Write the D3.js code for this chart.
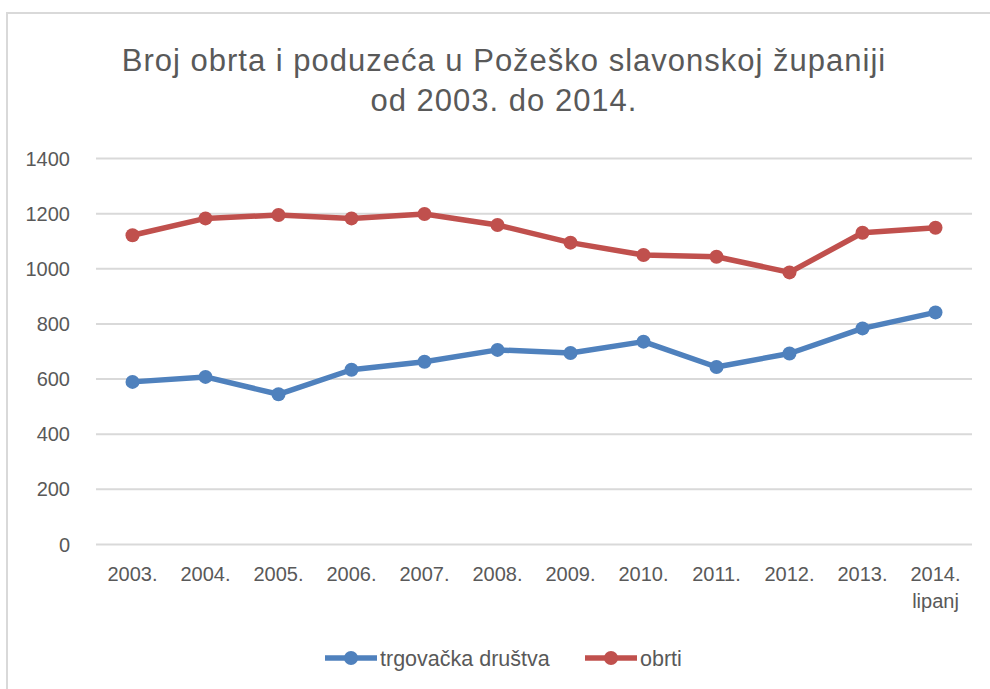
<!DOCTYPE html>
<html>
<head>
<meta charset="utf-8">
<script src="https://cdn.jsdelivr.net/npm/d3@7"></script>
<style>
  html, body { margin: 0; padding: 0; background: #fff; }
  svg { display: block; font-family: "Liberation Sans", Arial, sans-serif; }
  .grid line { stroke: #d9d9d9; stroke-width: 2; }
  .axis text { fill: #595959; font-size: 20px; }
</style>
</head>
<body>
<div id="chart"></div>
<script>
const years = ["2003.", "2004.", "2005.", "2006.", "2007.", "2008.", "2009.", "2010.", "2011.", "2012.", "2013.", "2014."];
const tvrtke = [588, 606, 543, 632, 661, 704, 693, 734, 642, 691, 782, 840];
const obrti = [1120, 1181, 1193, 1181, 1197, 1157, 1093, 1048, 1042, 985, 1129, 1147];
const yTicks = [0, 200, 400, 600, 800, 1000, 1200, 1400];
const titleLines = ["Broj obrta i poduzeća u Požeško slavonskoj županiji", "od 2003. do 2014."];

const series = [
  { name: "trgovačka društva", values: tvrtke, color: "#4f81bd" },
  { name: "obrti", values: obrti, color: "#c0504d" },
];

const W = 990, H = 689;
const margin = { top: 158, right: 18, bottom: 145, left: 96 };
const width = W - margin.left - margin.right;
const height = H - margin.top - margin.bottom;

const svgRoot = d3.select("#chart").append("svg").attr("width", W).attr("height", H);

// chart frame
svgRoot.append("rect")
  .attr("x", 7).attr("y", 13)
  .attr("width", W + 20).attr("height", H + 20)
  .attr("fill", "none").attr("stroke", "#d9d9d9").attr("stroke-width", 2);

svgRoot.append("text")
  .attr("text-anchor", "middle")
  .attr("fill", "#595959")
  .style("font-size", "31px")
  .style("letter-spacing", "1px")
  .selectAll("tspan")
  .data(titleLines)
  .join("tspan")
  .attr("x", 504)
  .attr("y", (d, i) => 71 + i * 40)
  .text((d) => d);

const svg = svgRoot.append("g").attr("transform", `translate(${margin.left},${margin.top})`);

const x = d3.scaleBand().domain(years).range([0, width]);
const y = d3.scaleLinear().domain([0, 1400]).range([height, 0]);

svg.append("g")
  .attr("class", "grid")
  .call(d3.axisLeft(y).tickValues(yTicks).tickSize(-width).tickFormat(""))
  .call((g) => g.select(".domain").remove());

svg.append("g")
  .attr("class", "axis")
  .attr("transform", "translate(-23,0)")
  .call(d3.axisLeft(y).tickValues(yTicks).tickSize(0).tickFormat(d3.format("d")))
  .call((g) => g.select(".domain").remove())
  .selectAll("text").attr("dy", "0.35em");

const xAxis = svg.append("g")
  .attr("class", "axis")
  .attr("transform", `translate(0,${height + 20})`)
  .call(d3.axisBottom(x).tickSize(0))
  .call((g) => g.select(".domain").remove());

xAxis.selectAll(".tick text").attr("dy", "0.71em");
xAxis.selectAll(".tick")
  .filter((d) => d === "2014.")
  .append("text")
  .attr("fill", "#595959")
  .attr("y", 30)
  .attr("dy", "0.71em")
  .text("lipanj");

const line = d3.line()
  .x((d, i) => x(years[i]) + x.bandwidth() / 2)
  .y((d) => y(d));

series.forEach((s) => {
  svg.append("path")
    .datum(s.values)
    .attr("fill", "none")
    .attr("stroke", s.color)
    .attr("stroke-width", 5.5)
    .attr("stroke-linejoin", "round")
    .attr("d", line);

  svg.selectAll(null)
    .data(s.values)
    .join("circle")
    .attr("cx", (d, i) => x(years[i]) + x.bandwidth() / 2)
    .attr("cy", (d) => y(d))
    .attr("r", 7)
    .attr("fill", s.color);
});

// legend
const legendPos = [325, 585];
const legend = svgRoot.append("g").attr("transform", "translate(0,658)");
series.forEach((s, i) => {
  const g = legend.append("g").attr("transform", `translate(${legendPos[i]},0)`);
  g.append("line").attr("x1", 0).attr("x2", 52)
    .attr("stroke", s.color).attr("stroke-width", 5.5);
  g.append("circle").attr("cx", 26).attr("r", 7).attr("fill", s.color);
  g.append("text").attr("x", 55).attr("dy", "0.35em")
    .attr("fill", "#595959").style("font-size", "21.5px")
    .text(s.name);
});
</script>
</body>
</html>
